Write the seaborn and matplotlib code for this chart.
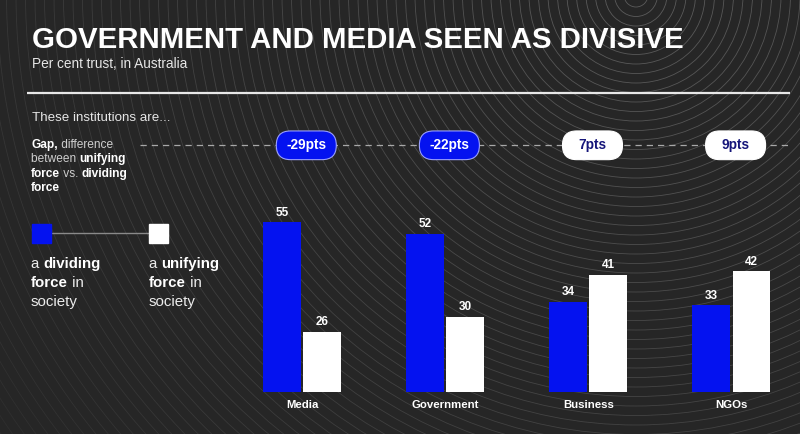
import numpy as np
import pandas as pd
import matplotlib
matplotlib.use("Agg")
import matplotlib.pyplot as plt
import seaborn as sns
from matplotlib.patches import FancyBboxPatch, Rectangle, Circle

# data
institutions = ["Media", "Government", "Business", "NGOs"]
dividing = [55, 52, 34, 33]
unifying = [26, 30, 41, 42]
series_names = ["a dividing force in society", "a unifying force in society"]

BG = "#262626"
BLUE = "#0412f0"
NAVY = "#16167a"

sns.set_theme(style="white")
plt.rcParams["font.family"] = ["Liberation Sans", "DejaVu Sans"]

df = pd.DataFrame({
    "institution": institutions * 2,
    "series": [series_names[0]] * 4 + [series_names[1]] * 4,
    "value": dividing + unifying,
})

W, H = 800, 434
fig = plt.figure(figsize=(W / 100, H / 100), dpi=100, facecolor=BG)

# background layer in pixel coords (top-left origin)
bg = fig.add_axes([0, 0, 1, 1], zorder=0)
bg.set_xlim(0, W)
bg.set_ylim(H, 0)
bg.axis("off")
bg.add_patch(Rectangle((0, 0), W, H, color=BG, zorder=0))

# concentric rings decoration
for r in np.arange(12, 900, 9.5):
    a = 0.22 * max(0.0, 1 - r / 800) + 0.03
    bg.add_patch(Circle((636, -5), r, fill=False, ec="white", lw=0.6, alpha=a, zorder=1))

# titles
bg.text(32, 48.3, "GOVERNMENT AND MEDIA SEEN AS DIVISIVE", color="white",
        fontsize=21.2, fontweight="bold", va="baseline", ha="left")
bg.text(32, 68.5, "Per cent trust, in Australia", color="#e6e6e6",
        fontsize=9.8, va="baseline", ha="left")
bg.plot([27, 790], [92.7, 92.7], color="#e8e8e8", lw=1.6, solid_capstyle="butt")
bg.text(32, 121, "These institutions are...", color="#e6e6e6",
        fontsize=9.6, va="baseline", ha="left")


def rich_line(ax, x, y, parts, size, line_color):
    prev = None
    for txt, bold in parts:
        col = "white" if bold else line_color
        fw = "bold" if bold else "normal"
        if prev is None:
            prev = ax.text(x, y, txt, color=col, fontsize=size, fontweight=fw,
                           ha="left", va="center", zorder=5)
        else:
            prev = ax.annotate(txt, xy=(1, 0), xycoords=prev, color=col,
                               fontsize=size, fontweight=fw, ha="left",
                               va="bottom", zorder=5)


gap_lines = [
    [("Gap,", True), (" difference", False)],
    [("between ", False), ("unifying", True)],
    [("force", True), (" vs. ", False), ("dividing", True)],
    [("force", True)],
]
for i, parts in enumerate(gap_lines):
    rich_line(bg, 31, 145 + i * 14.3, parts, 8.6, "#cfcfcf")

# legend
bg.plot([50, 150], [233.3, 233.3], color="#8a8a8a", lw=1, zorder=2)
bg.add_patch(Rectangle((32, 224), 18.7, 18.7, color=BLUE, zorder=3))
bg.add_patch(Rectangle((149, 224), 18.7, 18.7, color="white", zorder=3))
leg_a = [[("a ", False), ("dividing", True)], [("force", True), (" in", False)], [("society", False)]]
leg_b = [[("a ", False), ("unifying", True)], [("force", True), (" in", False)], [("society", False)]]
for i in range(3):
    rich_line(bg, 31, 264 + i * 18.8, leg_a[i], 10.8, "#ececec")
    rich_line(bg, 149, 264 + i * 18.8, leg_b[i], 10.8, "#ececec")

# main chart axes
left_px, right_px, top_px, base_px = 230, 790, 130, 391.7
ax = fig.add_axes([left_px / W, (H - base_px) / H, (right_px - left_px) / W,
                   (base_px - top_px) / H], zorder=2)
ax.patch.set_alpha(0)

sns.barplot(data=df, x="institution", y="value", hue="series",
            hue_order=series_names, order=institutions,
            palette=[BLUE, "white"], saturation=1, width=0.563, gap=0.06,
            linewidth=0, legend=False, ax=ax)

px_x = 143.1
px_y = 3.772
x0 = 302
ax.set_xlim((left_px - x0) / px_x, (right_px - x0) / px_x)
ymin = 10.1
ax.set_ylim(ymin, ymin + (base_px - top_px) / px_y)
ax.axis("off")

for cont in ax.containers:
    ax.bar_label(cont, padding=2.7, color="white", fontsize=8.5, fontweight="bold")

for i, name in enumerate(institutions):
    ax.text(i, ymin - (405 - base_px) / px_y, name, color="white", fontsize=8.2,
            fontweight="bold", ha="center", va="center", clip_on=False)

# gap pills
pill_y = ymin + (base_px - 145.3) / px_y
ax.axhline(pill_y, xmin=(140 - left_px) / (right_px - left_px), xmax=1.0,
           color="#a8a8a8", lw=0.9, ls=(0, (5, 4)), clip_on=False, zorder=1)
pw = 60 / px_x
ph = 28.7 / px_y
for i, (d, u) in enumerate(zip(dividing, unifying)):
    gap = u - d
    cx = i + 0.03
    neg = gap < 0
    face = BLUE if neg else "white"
    edge = "#9aa0ff" if neg else "white"
    ax.add_patch(FancyBboxPatch((cx - pw / 2, pill_y - ph / 2), pw, ph,
                                boxstyle="round,pad=0,rounding_size=0.099",
                                mutation_aspect=px_x / px_y, fc=face, ec=edge,
                                lw=0.8, clip_on=False, zorder=3))
    ax.text(cx, pill_y, f"{gap}pts", color="white" if neg else NAVY,
            fontsize=9.8, fontweight="bold", ha="center", va="center",
            zorder=4, clip_on=False)

fig.savefig("out.png", dpi=100, facecolor=BG)
